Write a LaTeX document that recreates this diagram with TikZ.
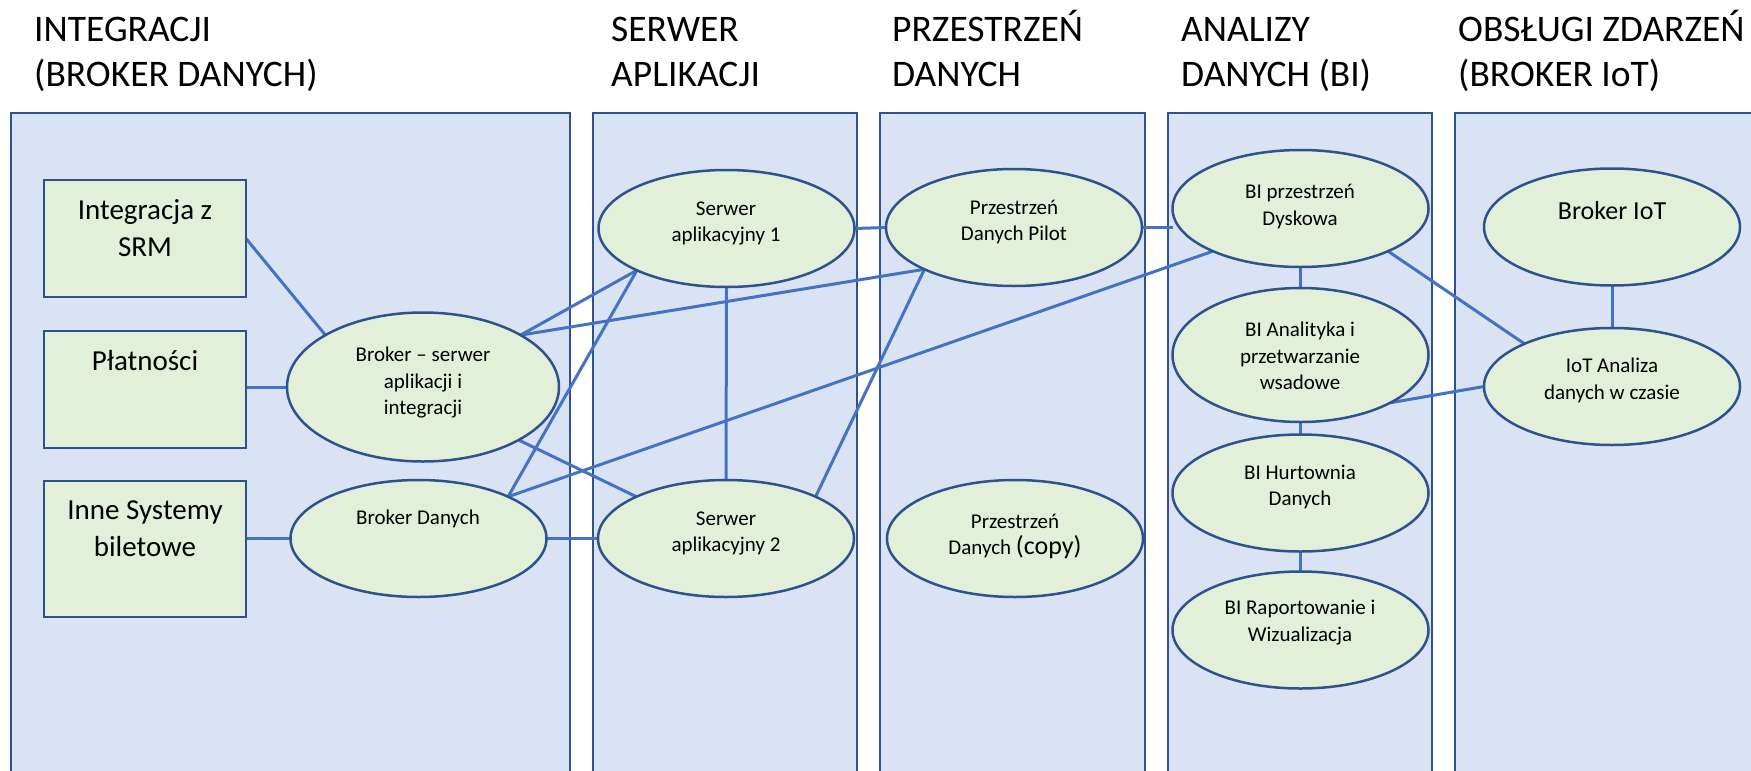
\documentclass[tikz,border=0pt]{standalone}
\usepackage{fontspec}
\setmainfont{Carlito}
\usetikzlibrary{shapes.geometric}
\definecolor{lanefill}{HTML}{DAE3F3}
\definecolor{laneline}{HTML}{2F528F}
\definecolor{nodefill}{HTML}{E2F0D9}
\definecolor{nodeline}{HTML}{2F528F}
\definecolor{linkc}{HTML}{4472C4}
\pgfdeclarelayer{lanes}
\pgfdeclarelayer{links}
\pgfsetlayers{lanes,links,main}
\begin{document}
\begin{tikzpicture}[x=1pt,y=-1pt,
  lane/.style={fill=lanefill,draw=laneline,line width=2pt},
  ell/.style={ellipse,fill=nodefill,draw=nodeline,line width=2.5pt,minimum width=256pt,minimum height=117pt,inner sep=0pt,outer sep=0pt},
  box/.style={rectangle,fill=nodefill,draw=nodeline,line width=2.5pt,minimum width=202pt,inner sep=0pt,outer sep=0pt},
  title/.style={anchor=north west,align=left,inner sep=0pt,font=\fontsize{37.5}{45}\selectfont},
  etxt/.style={align=center,inner sep=0pt,font=\fontsize{21}{26.5}\selectfont},
  btxt/.style={align=center,inner sep=0pt,font=\fontsize{29}{37}\selectfont},
  link/.style={draw=linkc,line width=3pt}]

\useasboundingbox (0,0) rectangle (1751,771);

% lanes
\begin{pgfonlayer}{lanes}
\fill[white] (0,0) rectangle (1751,771);
\draw[lane] (11,113) rectangle (570,776);
\draw[lane] (593,113) rectangle (857,776);
\draw[lane] (880,113) rectangle (1145,776);
\draw[lane] (1168,113) rectangle (1432,776);
\draw[lane] (1455,113) rectangle (1756,776);
\end{pgfonlayer}

% titles
\node[title] (t1) at (34,9.5) {\strut INTEGRACJI\\(BROKER DANYCH)};
\node[title] (t2) at (611,9.5) {\strut SERWER\\APLIKACJI};
\node[title] (t3) at (892,9.5) {\strut PRZESTRZEŃ\\DANYCH};
\node[title] (t4) at (1181,9.5) {\strut ANALIZY\\DANYCH (BI)};
\node[title] (t5) at (1458,9.5) {\strut OBSŁUGI ZDARZEŃ\\(BROKER IoT)};

% rectangles
\node[box,minimum height=117pt] (r1) at (145,238.5) {};
\node[box,minimum height=117pt] (r2) at (145,389.5) {};
\node[box,minimum height=136pt] (r3) at (145,549) {};
\node[btxt] (r1t) at (145,228) {Integracja z\\SRM};
\node[btxt] (r2t) at (145,361) {Płatności};
\node[btxt] (r3t) at (145,528.5) {Inne Systemy\\biletowe};

% ellipses
\node[ell,minimum width=272pt,minimum height=149pt] (bs) at (423,387) {};
\node[ell] (bd) at (418.5,538.5) {};
\node[ell] (s1) at (726.5,228.5) {};
\node[ell] (s2) at (726,538.5) {};
\node[ell] (p) at (1014,227.5) {};
\node[ell] (cp) at (1015,538.5) {};
\node[ell] (d) at (1300.5,208.5) {};
\node[ell,minimum height=134pt] (an) at (1300.5,355) {};
\node[ell] (hu) at (1300.5,493) {};
\node[ell] (ra) at (1300.5,630) {};
\node[ell] (bi) at (1612,227) {};
\node[ell] (ia) at (1612,386.5) {};

% ellipse texts
\node[etxt] (bst) at (423,383) {Broker – serwer\\aplikacji i\\integracji};
\node[etxt] (bdt) at (418,519) {Broker Danych};
\node[etxt] (s1t) at (726,223.5) {Serwer\\aplikacyjny 1};
\node[etxt] (pt) at (1014,222) {Przestrzeń\\Danych Pilot};
\node[etxt] (s2t) at (726,533.5) {Serwer\\aplikacyjny 2};
\node[etxt] (cpt) at (1015,536.5) {Przestrzeń\\Danych {\fontsize{26}{30}\selectfont(copy)}};
\node[etxt] (dt) at (1300,206.5) {BI przestrzeń\\Dyskowa};
\node[etxt,font=\fontsize{26}{31}\selectfont] (bit) at (1612,211) {Broker IoT};
\node[etxt] (iat) at (1612,380.5) {IoT Analiza\\danych w czasie};
\node[etxt] (ant) at (1300,356) {BI Analityka i\\przetwarzanie\\wsadowe};
\node[etxt] (hut) at (1300,487) {BI Hurtownia\\Danych};
\node[etxt] (rat) at (1300,622.5) {BI Raportowanie i\\Wizualizacja};

% connectors
\begin{pgfonlayer}{links}
\draw[link] (r1.east) -- (bs.152);
\draw[link] (r2.east |- bs.west) -- (bs.west);
\draw[link] (r3.east |- bd.west) -- (bd.west);
\draw[link] (bs.28) -- (s1.205);
\draw[link] (bs.28) -- (p.205);
\draw[link] (bs.331) -- (s2.155);
\draw[link] (bd.25) -- (s1.205);
\draw[link] (bd.25) -- (d.206);
\draw[link] (bd.east) -- (s2.west);
\draw[link] (s1.south) -- (s2.north);
\draw[link] (s2.25) -- (p.205);
\draw[link] (s1.east) -- (p.west);
\draw[link] (p.east) -- (p.east -| d.west);
\draw[link] (d.south) -- (an.north);
\draw[link] (an.south) -- (hu.north);
\draw[link] (hu.south) -- (ra.north);
\draw[link] (d.334) -- (ia.154);
\draw[link] (an.332) -- (ia.west);
\draw[link] (bi.south) -- (ia.north);
\end{pgfonlayer}
\end{tikzpicture}
\end{document}
